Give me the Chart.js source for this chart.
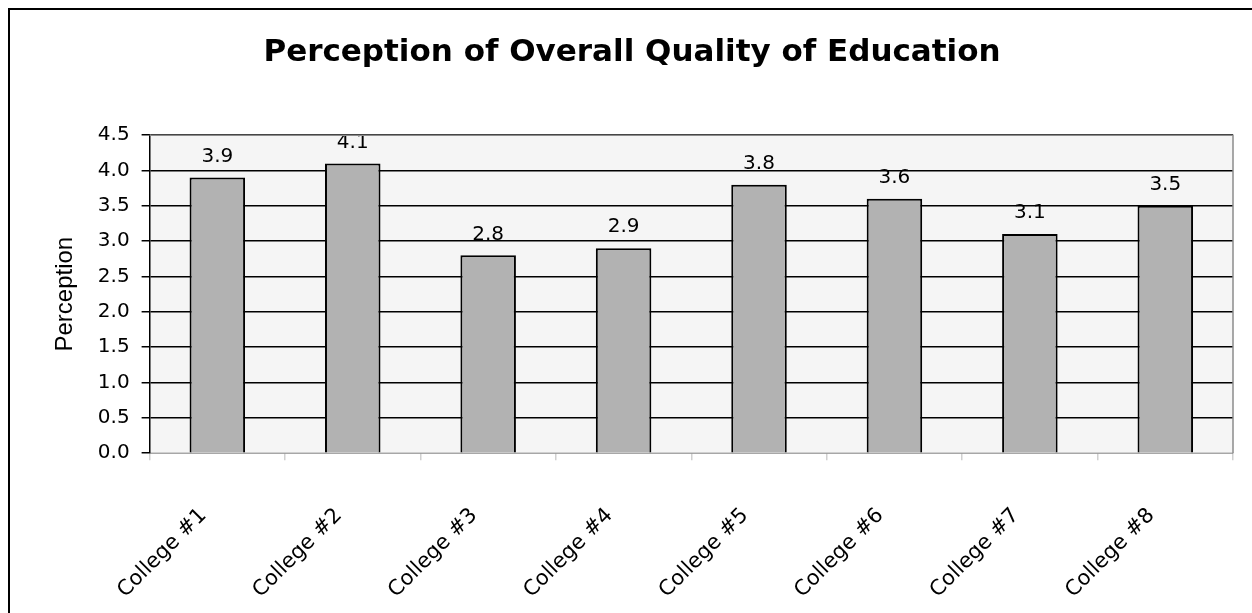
<!DOCTYPE html>
<html>
<head>
<meta charset="utf-8">
<script src="https://cdn.jsdelivr.net/npm/chart.js@4.4.0/dist/chart.umd.min.js"></script>
<style>
  html, body { margin: 0; padding: 0; background: #fff; }
  #wrap { width: 1252px; height: 613px; }
</style>
</head>
<body>
<div id="wrap"><canvas id="myChart" width="1252" height="613"></canvas></div>
<script>
const colleges = ['College #1', 'College #2', 'College #3', 'College #4', 'College #5', 'College #6', 'College #7', 'College #8'];
const perception = [3.9, 4.1, 2.8, 2.9, 3.8, 3.6, 3.1, 3.5];
const yTicks = [0, 0.5, 1, 1.5, 2, 2.5, 3, 3.5, 4, 4.5];

// plot background + frame, and the outer box of the chart
const frame = {
    id: 'frame',
    beforeDraw(chart) {
        const { ctx, chartArea: a } = chart;
        ctx.save();
        ctx.fillStyle = '#fff';
        ctx.fillRect(0, 0, chart.width, chart.height);
        ctx.strokeStyle = '#000';
        ctx.lineWidth = 2;
        ctx.strokeRect(9, 9, chart.width + 20, chart.height + 20);
        ctx.fillStyle = '#f5f5f5';
        ctx.fillRect(a.left, a.top, a.right - a.left, a.bottom - a.top);
        ctx.restore();
    },
    afterDraw(chart) {
        const { ctx, chartArea: a } = chart;
        ctx.save();
        ctx.strokeStyle = '#8c8c8c';
        ctx.lineWidth = 1.5;
        ctx.beginPath();
        ctx.moveTo(a.left, a.top);
        ctx.lineTo(a.right, a.top);
        ctx.lineTo(a.right, a.bottom);
        ctx.stroke();
        ctx.restore();
    }
};

const valueLabels = {
    id: 'valueLabels',
    afterDatasetsDraw(chart) {
        const { ctx } = chart;
        const meta = chart.getDatasetMeta(0);
        ctx.save();
        ctx.fillStyle = '#000';
        ctx.font = '20px "DejaVu Sans", sans-serif';
        ctx.textAlign = 'center';
        ctx.textBaseline = 'bottom';
        meta.data.forEach((bar, i) => {
            ctx.fillText(perception[i].toFixed(1), bar.x, bar.y - 11);
        });
        ctx.restore();
    }
};

const ctx = document.getElementById('myChart');

new Chart(ctx, {
    type: 'bar',
    data: {
        labels: colleges,
        datasets: [{
            label: 'Perception',
            data: perception,
            backgroundColor: '#b2b2b2',
            borderColor: '#000',
            borderWidth: 2,
            categoryPercentage: 1,
            barPercentage: 0.41
        }]
    },
    options: {
        responsive: false,
        animation: false,
        layout: { padding: { left: 31, right: 19, top: 0, bottom: -33 } },
        plugins: {
            legend: { display: false },
            tooltip: { enabled: false },
            title: {
                display: true,
                text: 'Perception of Overall Quality of Education',
                color: '#000',
                font: { family: '"DejaVu Sans", sans-serif', size: 31, weight: 'bold' },
                padding: { top: 34, bottom: 64 }
            }
        },
        scales: {
            x: {
                grid: {
                    offset: true,
                    drawOnChartArea: false,
                    color: '#d0d0d0',
                    tickLength: 7,
                    lineWidth: 1.5
                },
                border: { color: '#d0d0d0', width: 1.5 },
                ticks: {
                    color: '#000',
                    font: { family: '"DejaVu Sans", sans-serif', size: 21 },
                    maxRotation: 45,
                    minRotation: 45,
                    padding: 43,
                    labelOffset: -14
                }
            },
            y: {
                min: 0,
                max: 4.5,
                afterBuildTicks(axis) {
                    axis.ticks = yTicks.map(v => ({ value: v }));
                },
                grid: {
                    color: '#000',
                    lineWidth: 1.5,
                    tickLength: 8
                },
                border: { color: '#000', width: 1.5 },
                ticks: {
                    color: '#000',
                    font: { family: '"DejaVu Sans", sans-serif', size: 20 },
                    padding: 12,
                    callback: v => Number(v).toFixed(1)
                },
                title: {
                    display: true,
                    text: 'Perception',
                    color: '#000',
                    font: { family: '"Liberation Sans", Arial, sans-serif', size: 24 },
                    padding: { top: 20, bottom: 6 }
                }
            }
        }
    },
    plugins: [frame, valueLabels]
});
</script>
</body>
</html>
